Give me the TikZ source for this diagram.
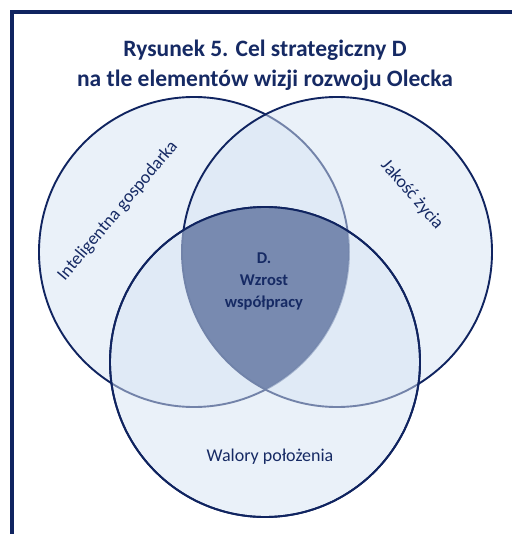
\documentclass[tikz,border=0pt]{standalone}
\usepackage{fontspec}
\setmainfont{Carlito}
\usetikzlibrary{positioning}
\definecolor{navyline}{RGB}{16,36,96}
\definecolor{paleblue}{RGB}{214,227,243}
\definecolor{slateblue}{RGB}{112,131,170}
\definecolor{titleblue}{RGB}{22,42,100}

\begin{document}
\begin{tikzpicture}[x=1pt,y=-1pt]
    % Basic parameters for circles
    \def\radius{155}
    \def\ringwidth{1.9pt}
    \useasboundingbox (0,0) rectangle (511,534);

    % Frame
    \draw[navyline, line width=4pt] (12,540) -- (12,12) -- (520,12);

    % Title
    \node[font=\bfseries\fontsize{23.5}{30}\selectfont, text=titleblue, align=center]
        (title) at (265,65) {Rysunek 5. Cel strategiczny D\\na tle elementów wizji rozwoju Olecka};

    % Draw three circles
    \begin{scope}[fill opacity=0.5, draw opacity=1]
        \filldraw[fill=paleblue, draw=navyline, line width=\ringwidth] (194,252) circle (\radius);
        \filldraw[fill=paleblue, draw=navyline, line width=\ringwidth] (337,252) circle (\radius);
        \filldraw[fill=paleblue, draw=navyline, line width=\ringwidth] (265,362) circle (\radius);
    \end{scope}

    % Common part of all three
    \begin{scope}
        \clip (194,252) circle (\radius);
        \clip (337,252) circle (\radius);
        \fill[slateblue, opacity=0.92] (265,362) circle (\radius);
    \end{scope}
    \draw[navyline, line width=\ringwidth] (265,362) circle (\radius);

    % Add labels
    \node[font=\fontsize{18}{20}\selectfont, text=titleblue, rotate=50]
        (gosp) at (118,211) {Inteligentna gospodarka};
    \node[font=\fontsize{18}{20}\selectfont, text=titleblue, rotate=-49]
        (jakosc) at (412,195) {Jakość życia};
    \node[font=\fontsize{18}{20}\selectfont, text=titleblue]
        (walory) at (270,457) {Walory położenia};
    \node[font=\bfseries\fontsize{16.5}{22}\selectfont, text=titleblue, align=center]
        (cel) at (264,281) {D.\\Wzrost\\współpracy};
\end{tikzpicture}
\end{document}
